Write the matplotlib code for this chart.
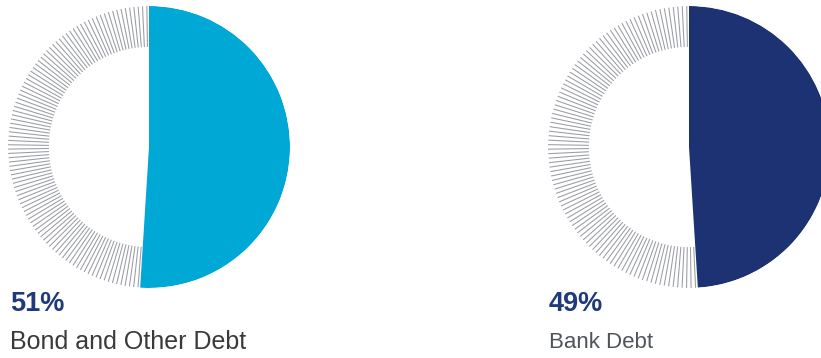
import numpy as np
import matplotlib
matplotlib.use("Agg")
import matplotlib.pyplot as plt

categories = ["Bond and Other Debt", "Bank Debt"]
shares = [51, 49]
pct_labels = ["51%", "49%"]
colors = ["#00A8D5", "#1D3273"]
label_colors = ["#3a3a3a", "#4f545c"]
label_sizes = [18, 16]
n_hatch = 100

W, H = 821, 358
fig = plt.figure(figsize=(W / 100, H / 100), dpi=100)
fig.patch.set_facecolor("white")

centers_x = [149, 689]
cy = H - 147
R = 141
inner = 0.71
text_x = [10, 549]

for i, (share, col) in enumerate(zip(shares, colors)):
    cx = centers_x[i]
    ax = fig.add_axes([(cx - R) / W, (cy - R) / H, 2 * R / W, 2 * R / H],
                      projection="polar")
    ax.set_theta_zero_location("N")
    ax.set_theta_direction(-1)
    span = share / 100 * 2 * np.pi
    ax.bar(span / 2, 1.0, width=span, bottom=0, color=col, edgecolor="none",
           align="center")
    rest = 2 * np.pi - span
    th = span + (np.arange(n_hatch) + 0.5) * rest / n_hatch
    ax.vlines(th, inner, 1.0, colors="#9a9ca4", linewidth=0.75)
    ax.set_ylim(0, 1)
    ax.set_axis_off()

    fig.text(text_x[i] / W, 1 - 304 / H, pct_labels[i], fontsize=19.5,
             fontweight="bold", color="#1F3A7A", family="Liberation Sans",
             va="center", ha="left")
    fig.text(text_x[i] / W, 1 - 342 / H, categories[i], fontsize=label_sizes[i],
             color=label_colors[i], family="Liberation Sans",
             va="center", ha="left")

fig.savefig("out.png", dpi=100, facecolor="white")
